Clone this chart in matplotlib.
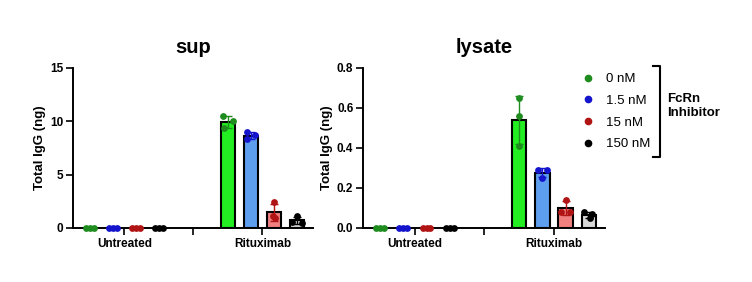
import matplotlib
matplotlib.use("Agg")
import matplotlib.pyplot as plt
from matplotlib.lines import Line2D
import numpy as np

plt.rcParams['font.family'] = ['Liberation Sans', 'DejaVu Sans']

groups = ["Untreated", "Rituximab"]
doses = ["0 nM", "1.5 nM", "15 nM", "150 nM"]

# replicate values (3 per bar), order: doses within group
sup_untreated = [[0, 0, 0], [0, 0, 0], [0, 0, 0], [0, 0, 0]]
sup_rituximab = [[10.5, 10.0, 9.4], [9.0, 8.7, 8.3], [2.4, 1.1, 0.9], [1.1, 0.6, 0.5]]
lys_untreated = [[0, 0, 0], [0, 0, 0], [0, 0, 0], [0, 0, 0]]
lys_rituximab = [[0.65, 0.56, 0.41], [0.29, 0.29, 0.25], [0.14, 0.08, 0.08], [0.08, 0.07, 0.05]]

sup_yticks = [0, 5, 10, 15]
lys_yticks = [0.0, 0.2, 0.4, 0.6, 0.8]

bar_colors = ['#22EE22', '#5E9EEE', '#F08080', '#D8D8D8']
dot_colors = ['#1E8C1E', '#1414CC', '#B01414', '#000000']
jit_sup = [[-0.2, 0.2, -0.17], [-0.19, 0.17, -0.15], [0.0, -0.05, 0.05], [0.0, -0.2, 0.2]]
jit_lys = [[0.0, 0.0, 0.0], [-0.17, 0.2, 0.0], [0.0, -0.2, 0.2], [-0.2, 0.15, 0.05]]
jit_untr = [-0.17, 0.0, 0.17]

fig = plt.figure(figsize=(7.52, 2.82), dpi=100)
W, H = 752, 282

def fx(px):
    return px / W

def fy(py):
    return 1 - py / H

def panel(ax, untr, ritux, jit_r, yticks, title, fmt):
    for gi, data in enumerate([untr, ritux]):
        for di, vals in enumerate(data):
            x = gi * 6 + di
            vals = np.array(vals, dtype=float)
            m = vals.mean()
            sd = vals.std(ddof=1)
            ax.bar(x, m, width=0.62, color=bar_colors[di], edgecolor='black',
                   linewidth=1.5, zorder=2)
            if m > 0:
                ax.errorbar(x, m, yerr=sd, color=dot_colors[di], capsize=3,
                            elinewidth=1.0, capthick=1.0, zorder=3)
            jit = jit_r[di] if gi == 1 else jit_untr
            ax.scatter(x + np.array(jit), vals, s=24, color=dot_colors[di],
                       zorder=4, linewidths=0, clip_on=False)
    ax.set_xlim(-0.74, 9.7)
    ax.set_ylim(yticks[0], yticks[-1])
    ax.set_yticks(yticks)
    ax.set_yticklabels([fmt.format(v) for v in yticks])
    ax.set_xticks([1.5, 4.5, 7.5])
    ax.set_xticklabels([groups[0], '', groups[1]])
    for s in ['top', 'right']:
        ax.spines[s].set_visible(False)
    for s in ['left', 'bottom']:
        ax.spines[s].set_linewidth(1.4)
    ax.tick_params(axis='both', width=1.2, length=5, labelsize=8.5, pad=2)
    for lab in ax.get_xticklabels() + ax.get_yticklabels():
        lab.set_fontweight('bold')
    ax.set_ylabel('Total IgG (ng)', fontsize=9.5, fontweight='bold', labelpad=3)
    ax.set_title(title, fontsize=14.5, fontweight='bold', pad=11)

ax1 = fig.add_axes([fx(73), fy(228), fx(240), 160 / H])
ax2 = fig.add_axes([fx(363), fy(228), fx(242), 160 / H])
panel(ax1, sup_untreated, sup_rituximab, jit_sup, sup_yticks, 'sup', '{:g}')
panel(ax2, lys_untreated, lys_rituximab, jit_lys, lys_yticks, 'lysate', '{:.1f}')

handles = [Line2D([], [], marker='o', linestyle='none', color=c, markersize=4.5)
           for c in dot_colors]
leg = fig.legend(handles, doses, loc='upper left', bbox_to_anchor=(fx(581), fy(73)),
                 frameon=False, fontsize=9.5, handlelength=1.0, handletextpad=0.9,
                 labelspacing=0.72, borderpad=0, borderaxespad=0)

# bracket
fig.add_artist(Line2D([fx(653), fx(660), fx(660), fx(653)],
                      [fy(66), fy(66), fy(157), fy(157)],
                      color='black', linewidth=1.5))
fig.text(fx(667), fy(106), 'FcRn\nInhibitor', fontsize=9.5, fontweight='bold',
         ha='left', va='center', linespacing=1.15)

fig.savefig('out.png', dpi=100)
